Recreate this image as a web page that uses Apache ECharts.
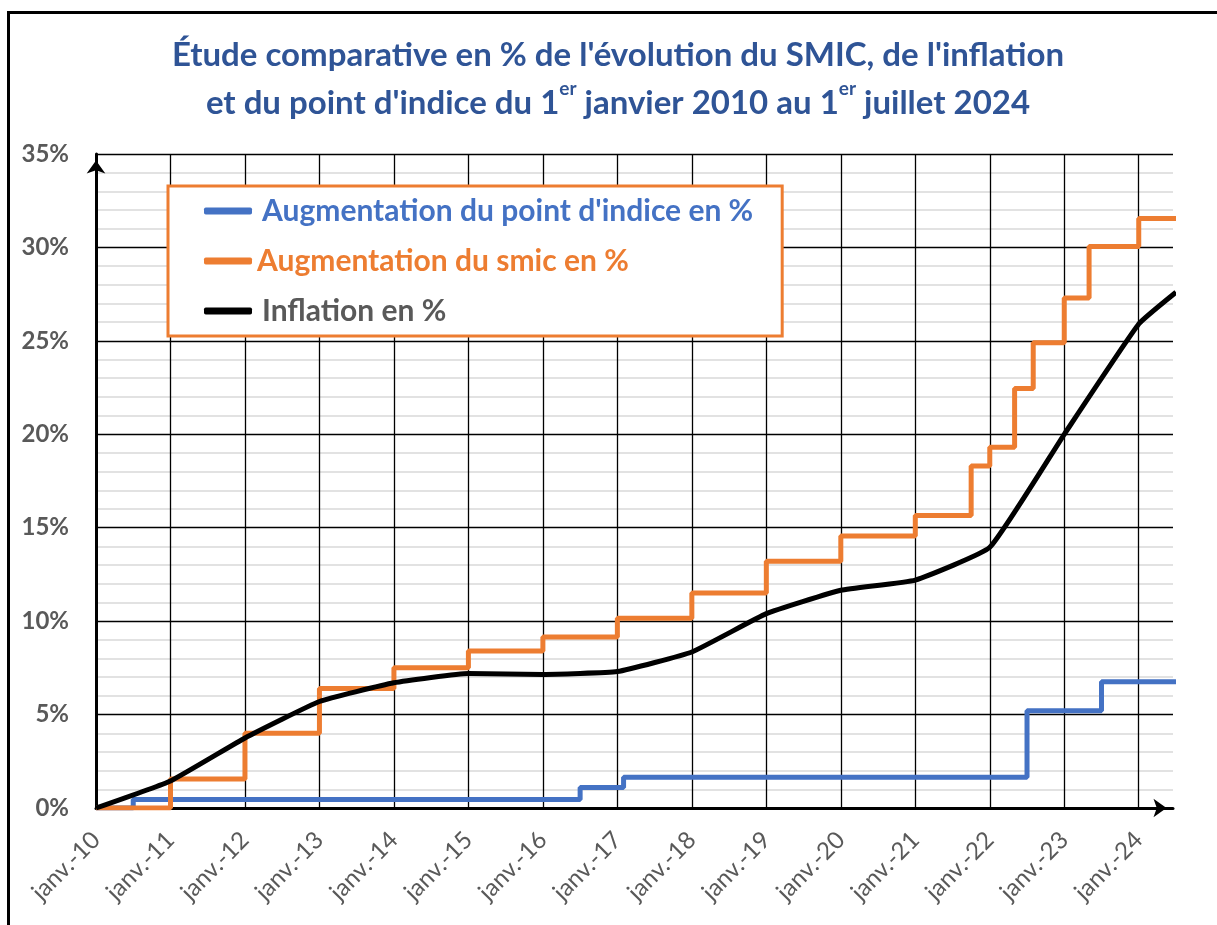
<!DOCTYPE html>
<html>
<head>
<meta charset="utf-8">
<script src="https://cdn.jsdelivr.net/npm/echarts@6/dist/echarts.min.js"></script>
<style>
html,body{margin:0;padding:0;background:#fff;}
#c{width:1217px;height:925px;}
</style>
</head>
<body>
<div id="c"></div>
<script>
// ---- data ----
const SERIES_NAMES = [
  "Augmentation du point d'indice en %",
  "Augmentation du smic en %",
  "Inflation en %"
];
const X_TICK_YEARS = [2010,2011,2012,2013,2014,2015,2016,2017,2018,2019,2020,2021,2022,2023,2024];
const X_TICK_LABELS = ['janv.-10','janv.-11','janv.-12','janv.-13','janv.-14','janv.-15','janv.-16','janv.-17','janv.-18','janv.-19','janv.-20','janv.-21','janv.-22','janv.-23','janv.-24'];
const Y_TICK_LABELS = ['0%','5%','10%','15%','20%','25%','30%','35%'];

const POINT_DATES  = ['2010-01','2010-07','2016-07','2017-02','2022-07','2023-07','2024-07'];
const POINT_VALUES = [0, 0.45, 1.1, 1.65, 5.2, 6.75, 6.75];

const SMIC_DATES  = ['2010-01','2011-01','2012-01','2013-01','2014-01','2015-01','2016-01','2017-01','2018-01','2019-01','2020-01','2021-01','2021-10','2022-01','2022-05','2022-08','2023-01','2023-05','2024-01','2024-07'];
const SMIC_VALUES = [0, 1.55, 4.0, 6.4, 7.5, 8.4, 9.15, 10.15, 11.5, 13.2, 14.55, 15.65, 18.3, 19.3, 22.45, 24.9, 27.3, 30.05, 31.55, 31.55];

const INFL_DATES  = ['2010-01','2011-01','2012-01','2013-01','2014-01','2015-01','2016-01','2017-01','2018-01','2019-01','2020-01','2021-01','2022-01','2023-01','2024-01','2024-07'];
const INFL_VALUES = [0, 1.45, 3.75, 5.7, 6.7, 7.2, 7.15, 7.3, 8.35, 10.4, 11.65, 12.2, 13.95, 20.0, 25.9, 27.6];

// ---- helpers ----
function toYear(s){ const p = s.split('-'); return Number(p[0]) + (Number(p[1]) - 1) / 12; }
function pairs(dates, values){ return dates.map((d,i) => [toYear(d), values[i]]); }

const BLUE = '#4472C4', ORANGE = '#ED7D31', BLACK = '#000000', GREY = '#595959', TITLE = '#2F5496';
const FONT = 'Lato';

const chart = echarts.init(document.getElementById('c'), null, {renderer:'canvas'});
chart.setOption({
  backgroundColor: '#ffffff',
  animation: false,
  title: {
    text: "{a|Étude comparative en % de l'évolution du SMIC, de l'inflation}\n{a|et du point d'indice du 1}{s|er}{a| janvier 2010 au 1}{s|er}{a| juillet 2024}",
    left: 613, top: 26, textAlign: 'center',
    textStyle: {
      rich: {
        a: {fontFamily: FONT, fontSize: 33, fontWeight: 'bold', color: TITLE, lineHeight: 48},
        s: {fontFamily: FONT, fontSize: 19, fontWeight: 'bold', color: TITLE, lineHeight: 46, verticalAlign: 'top'}
      }
    }
  },
  graphic: [{
    type: 'rect', silent: true, z: 100,
    shape: {x: 8.5, y: 12.5, width: 1400, height: 1100},
    style: {fill: 'none', stroke: '#000', lineWidth: 3}
  }],
  legend: {
    orient: 'vertical', left: 168, top: 186,
    padding: [10, 29, 10, 36],
    backgroundColor: '#fff', borderColor: ORANGE, borderWidth: 3,
    icon: 'roundRect', itemWidth: 48, itemHeight: 7, itemGap: 20,
    textStyle: {fontFamily: FONT, fontSize: 30, fontWeight: 'bold', lineHeight: 30},
    data: [
      {name: SERIES_NAMES[0], textStyle: {color: BLUE, padding: [0,0,0,5]}},
      {name: SERIES_NAMES[1], textStyle: {color: ORANGE}},
      {name: SERIES_NAMES[2], textStyle: {color: GREY, padding: [0,0,0,5]}}
    ]
  },
  grid: {left: 96, right: 44, top: 154, bottom: 117, containLabel: false},
  xAxis: {
    type: 'value', min: 2010, max: 2024.46, interval: 1,
    axisLine: {show: true, lineStyle: {color: '#000', width: 3}, symbol: ['none','arrow'], symbolSize: [14, 13], symbolOffset: [0, -6.5]},
    axisTick: {show: false},
    splitLine: {show: false},
    axisLabel: {
      rotate: 45, margin: 28, color: GREY, fontFamily: FONT, fontSize: 24, showMaxLabel: false,
      formatter: v => { const i = X_TICK_YEARS.indexOf(v); return i >= 0 ? X_TICK_LABELS[i] : ''; }
    }
  },
  yAxis: {
    type: 'value', min: 0, max: 35, interval: 5,
    axisLine: {show: true, lineStyle: {color: '#000', width: 3}, symbol: ['none','arrow'], symbolSize: [14, 13], symbolOffset: [0, -6.5]},
    axisTick: {show: false},
    minorTick: {show: false, splitNumber: 5},
    splitLine: {show: true, lineStyle: {color: '#000', width: 1.3}},
    minorSplitLine: {show: true, lineStyle: {color: '#d9d9d9', width: 1.5}},
    axisLabel: {
      margin: 27, color: GREY, fontFamily: FONT, fontSize: 24, fontWeight: 'bold',
      formatter: v => Y_TICK_LABELS[Math.round(v / 5)] || ''
    }
  },
  series: [
    {
      type: 'line', name: '__grid', data: [[2010, 0]], showSymbol: false, silent: true, z: 1,
      lineStyle: {width: 0},
      markLine: {
        z: 1, silent: true, symbol: ['none','none'], label: {show: false},
        lineStyle: {color: '#000', width: 1.3, type: 'solid'},
        data: X_TICK_YEARS.map(y => ({xAxis: y}))
      }
    },
    {
      type: 'line', name: SERIES_NAMES[0], step: 'end', showSymbol: false, z: 2,
      data: pairs(POINT_DATES, POINT_VALUES),
      itemStyle: {color: BLUE}, lineStyle: {color: BLUE, width: 5}
    },
    {
      type: 'line', name: SERIES_NAMES[1], step: 'end', showSymbol: false, z: 3,
      data: pairs(SMIC_DATES, SMIC_VALUES),
      itemStyle: {color: ORANGE}, lineStyle: {color: ORANGE, width: 5}
    },
    {
      type: 'line', name: SERIES_NAMES[2], smooth: 0.12, showSymbol: false, z: 4,
      data: pairs(INFL_DATES, INFL_VALUES),
      itemStyle: {color: BLACK}, lineStyle: {color: BLACK, width: 5, join: 'round'}
    }
  ]
});
</script>
</body>
</html>
